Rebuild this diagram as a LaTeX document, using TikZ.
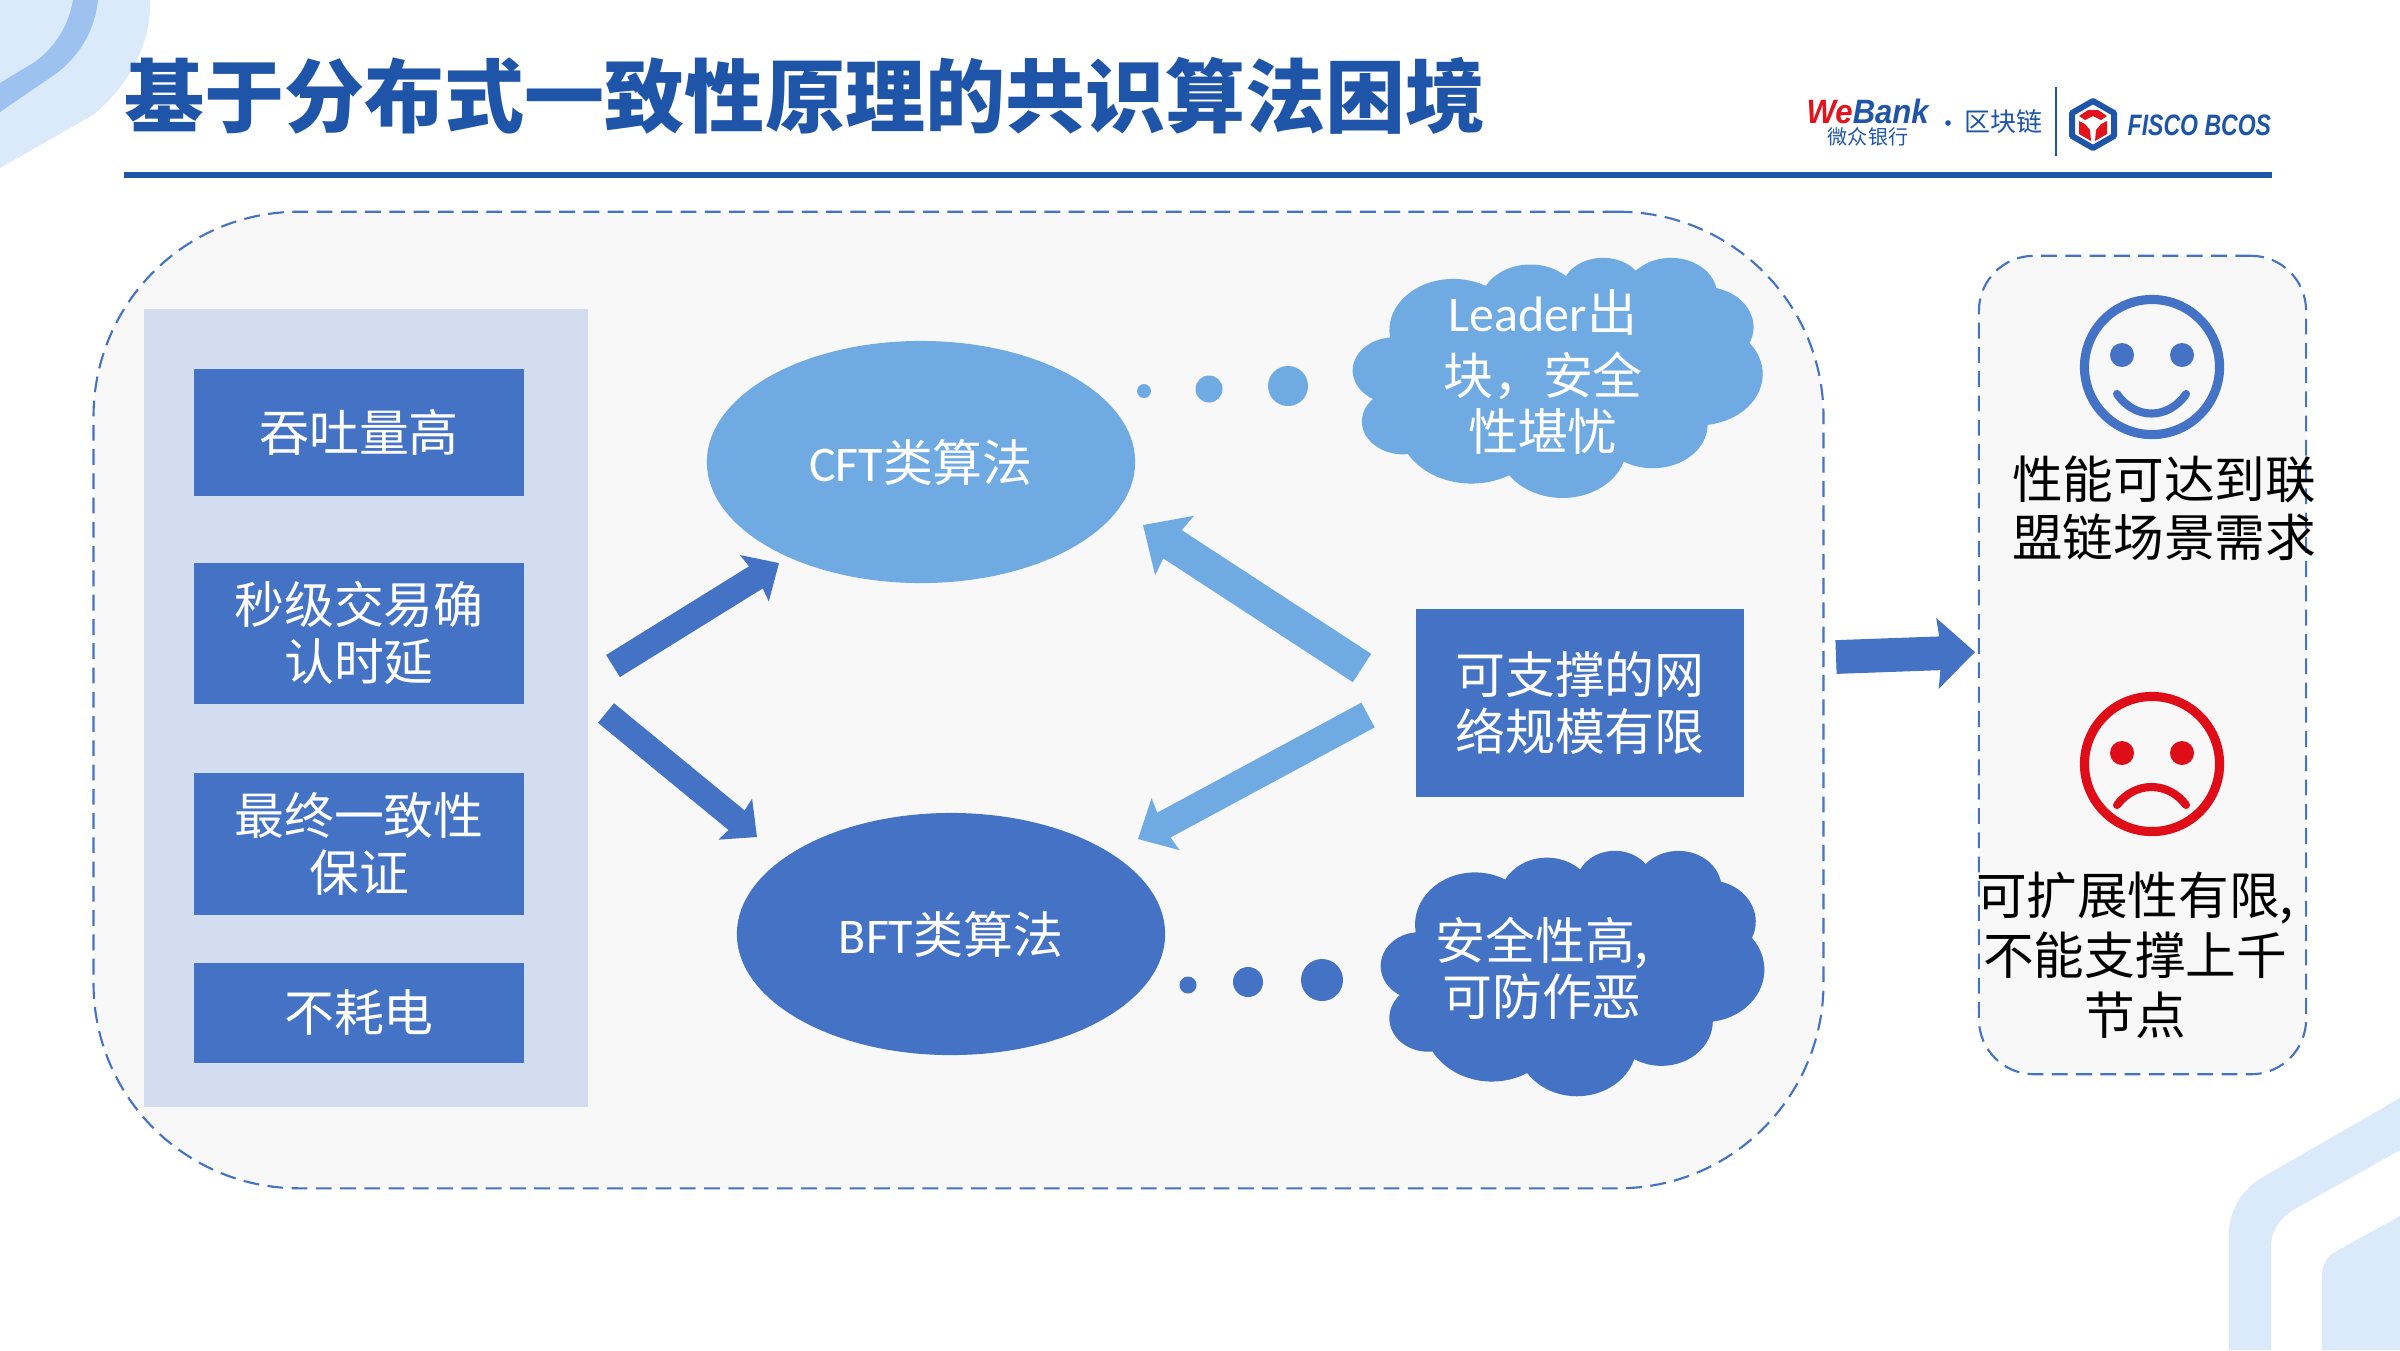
\documentclass[tikz,border=0pt]{standalone}
\usepackage{fontspec}
\setmainfont{Noto Sans CJK SC}
\newfontfamily\latinfont{Carlito}
\newfontfamily\logofont{Liberation Sans}
\usetikzlibrary{positioning,arrows.meta,shapes.geometric}
\definecolor{titleblue}{HTML}{1F55A8}
\definecolor{boxblue}{HTML}{4472C4}
\definecolor{skyblue}{HTML}{6FABE2}
\definecolor{panelblue}{HTML}{D2DDF0}
\definecolor{panelgrey}{HTML}{F8F8F8}
\definecolor{decopale}{HTML}{DAEAFB}
\definecolor{decoblue}{HTML}{9EC2F0}
\definecolor{sadred}{HTML}{DE0D17}
\definecolor{logored}{HTML}{E1141E}
\tikzset{
  dashpanel/.style={draw=boxblue,fill=panelgrey,line width=0.6pt,dash pattern=on 4.5pt off 2.4pt,inner sep=0pt},
  bodytext/.style={font=\fontsize{14.2}{16}\selectfont,align=center,inner sep=0pt},
  resulttext/.style={font=\fontsize{14.4}{16.6}\selectfont,align=center,inner sep=0pt},
  lowertext/.style={execute at begin node={\rule{0pt}{14.6pt}}},
  factorbox/.style={fill=boxblue,text=white,bodytext,minimum width=3.3cm},
  algnode/.style={ellipse,text=white,bodytext,minimum width=4.28cm,minimum height=2.42cm},
  fatarrow/.style={line width=#1,-{Stealth[length=0pt 1.1,width=0pt 2.05,inset=0pt 0.12]}},
  dotnode/.style={circle,inner sep=0pt,minimum size=#1},
  facering/.style={line width=2.6pt},
  facemouth/.style={line width=2.3pt,line cap=round},
  logotext/.style={text=titleblue,inner sep=0pt}
}
\newcommand{\puffpath}{(39,143.7)
  arc[start angle=-187.75,end angle=-59.64,x radius=67.53,y radius=91.90]
  arc[start angle=-152.02,end angle=-45.45,x radius=53.33,y radius=72.67]
  arc[start angle=-153.49,end angle=-37.33,x radius=43.65,y radius=59.45]
  arc[start angle=-139.71,end angle=-10.21,x radius=48.57,y radius=65.95]
  arc[start angle=-74.77,end angle=23.21,x radius=53.33,y radius=72.73]
  arc[start angle=-37.52,end angle=81.86,x radius=67.75,y radius=92.20]
  arc[start angle=0.46,end angle=121.98,x radius=57.85,y radius=78.67]
  arc[start angle=16.85,end angle=146.24,x radius=67.52,y radius=92.15]
  arc[start angle=58.98,end angle=150.19,x radius=77.20,y radius=105.43]
  arc[start angle=-276.69,end angle=-136.89,x radius=43.60,y radius=59.18]
  arc[start angle=-239.65,end angle=-95.89,x radius=43.45,y radius=59.45] -- cycle}
\begin{document}
\begin{tikzpicture}[x=0.01cm,y=-0.01cm]
\useasboundingbox (0,0) rectangle (2400,1350);
% corner decoration
\fill[decopale] (0,0) -- (150,0) .. controls (152,40) and (130,85) .. (93,115) -- (0,168) -- cycle;
\fill[decoblue] (73,0) .. controls (68,30) and (50,52) .. (33,63) -- (0,83) -- (0,112) -- (57,73) .. controls (80,55) and (95,30) .. (98,0) -- cycle;
\fill[decopale] (2229,1350) -- (2229,1233) .. controls (2229,1210) and (2243,1188) .. (2263,1177) -- (2400,1098) -- (2400,1150) -- (2293,1210) .. controls (2280,1218) and (2271,1230) .. (2271,1247) -- (2271,1350) -- cycle;
\fill[decopale] (2322,1350) -- (2322,1277) .. controls (2322,1266) and (2326,1258) .. (2333,1253) -- (2400,1216) -- (2400,1350) -- cycle;
% title and logos
\node[anchor=west,inner sep=0pt,text=titleblue,font=\fontsize{22.76}{26}\selectfont\bfseries] (title) at (124,96) {基于分布式一致性原理的共识算法困境};
\coordinate (ruleleft) at (124,175);
\coordinate (ruleright) at (2272,175);
\draw[titleblue,line width=1.7pt] (ruleleft) -- (ruleright);
\node[logotext,anchor=west,font=\logofont\fontsize{9.6}{11}\selectfont\bfseries\itshape] (webank) at (1806,111) {\scalebox{0.92}[1]{\textcolor{logored}{We}Bank}};
\node[logotext,font=\fontsize{5.7}{7}\selectfont] (webankcn) at (1868,137) {微众银行};
\node[logotext,anchor=west,font=\fontsize{7.4}{9}\selectfont] (chainword) at (1964,122) {区块链};
\node[dotnode=1.6pt,fill=titleblue] (logodot) at (1948,123) {};
\coordinate (logotop) at (2056,87);
\coordinate (logobottom) at (2056,156);
\draw[titleblue,line width=0.5pt] (logotop) -- (logobottom);
\draw[titleblue,line width=1.7pt,line join=round] (2093,101) -- (2114,113) -- (2114,136) -- (2093,148) -- (2072,136) -- (2072,113) -- cycle;
\fill[logored] (2088,110) -- (2098,110) -- (2107,116) -- (2101,120) -- (2093,116) -- (2085,120) -- (2079,116) -- cycle;
\fill[logored] (2079,121) -- (2085,124) -- (2090,130) -- (2091,141) -- (2079,134) -- cycle;
\fill[logored] (2107,121) -- (2101,124) -- (2096,130) -- (2095,141) -- (2107,134) -- cycle;
\node[logotext,anchor=west,font=\logofont\fontsize{8.4}{10}\selectfont\bfseries\itshape] (fisco) at (2127,125) {\scalebox{0.78}[1]{FISCO BCOS}};
% main panel
\node[dashpanel,rounded corners=2.05cm,minimum width=17.29cm,minimum height=9.76cm] (mainpanel) at (958.5,700) {};
\node[fill=panelblue,inner sep=0pt,minimum width=4.44cm,minimum height=7.98cm] (factorpanel) at (366,708) {};
\node[factorbox,minimum height=1.27cm] (tput) at (359,432.5) {吞吐量高};
\node[factorbox,lowertext,minimum height=1.41cm,below=0.65cm of tput] (confirm) {秒级交易确\\认时延};
\node[factorbox,lowertext,minimum height=1.42cm,below=0.68cm of confirm] (finality) {最终一致性\\保证};
\node[factorbox,minimum height=1.00cm,below=0.46cm of finality] (power) {不耗电};
\node[algnode,fill=skyblue] (cft) at (921,462) {{\latinfont CFT}类算法};
\node[algnode,fill=boxblue] (bft) at (951,934) {{\latinfont BFT}类算法};
\node[factorbox,lowertext,minimum width=3.27cm,minimum height=1.88cm] (netscale) at (1580,703) {可支撑的网\\络规模有限};
% clouds
\begin{scope}[shift={(1353,257)},x=0.00948cm,y=-0.00555cm]
\fill[skyblue] \puffpath;
\end{scope}
\begin{scope}[shift={(1381,850)},x=0.00886cm,y=-0.00567cm]
\fill[boxblue] \puffpath;
\end{scope}
\node[bodytext,text=white] (cftcloud) at (1543,372) {{\latinfont Leader}出\\[2pt]块，安全\\性堪忧};
\node[bodytext,text=white] (bftcloud) at (1542,968) {安全性高,\\可防作恶};
\node[dotnode=0.14cm,fill=skyblue] (cftdota) at (1144,391) {};
\node[dotnode=0.27cm,fill=skyblue] (cftdotb) at (1209,389) {};
\node[dotnode=0.40cm,fill=skyblue] (cftdotc) at (1288,386) {};
\node[dotnode=0.17cm,fill=boxblue] (bftdota) at (1188,985) {};
\node[dotnode=0.30cm,fill=boxblue] (bftdotb) at (1248,982) {};
\node[dotnode=0.42cm,fill=boxblue] (bftdotc) at (1322,980) {};
% arrows
\coordinate (upstart) at (613,666);
\coordinate (upend) at (779,563);
\coordinate (downstart) at (606,713);
\coordinate (downend) at (757,837);
\coordinate (netupstart) at (1362,668);
\coordinate (netupend) at (1143,525);
\coordinate (netdownstart) at (1368,715);
\coordinate (netdownend) at (1138,839);
\coordinate (resultstart) at (1836,657);
\coordinate (resultend) at (1975,652);
\draw[fatarrow=7.4pt,boxblue] (upstart) -- (upend);
\draw[fatarrow=7.2pt,boxblue] (downstart) -- (downend);
\draw[fatarrow=9.6pt,skyblue] (netupstart) -- (netupend);
\draw[fatarrow=8pt,skyblue] (netdownstart) -- (netdownend);
\draw[fatarrow=9.6pt,boxblue] (resultstart) -- (resultend);
% result panel
\node[dashpanel,rounded corners=0.55cm,minimum width=3.27cm,minimum height=8.18cm] (resultpanel) at (2142.5,665) {};
\node[circle,draw=boxblue,facering,inner sep=0pt,minimum size=1.35cm] (smile) at (2152,367) {};
\node[dotnode=0.24cm,fill=boxblue] (smileleft) at (2122,355) {};
\node[dotnode=0.24cm,fill=boxblue] (smileright) at (2182,355) {};
\draw[boxblue,facemouth] (2117,394) .. controls (2135,420) and (2168,420) .. (2186,394);
\node[circle,draw=sadred,facering,inner sep=0pt,minimum size=1.35cm] (sad) at (2152,764) {};
\node[dotnode=0.24cm,fill=sadred] (sadleft) at (2122,753) {};
\node[dotnode=0.24cm,fill=sadred] (sadright) at (2182,753) {};
\draw[sadred,facemouth] (2117,805) .. controls (2135,781) and (2168,781) .. (2186,805);
\node[resulttext] (goodtext) at (2164,508) {性能可达到联\\盟链场景需求};
\node[resulttext] (badtext) at (2135,955) {可扩展性有限,\\[0.4pt]不能支撑上千\\[0.4pt]节点};
\end{tikzpicture}
\end{document}
